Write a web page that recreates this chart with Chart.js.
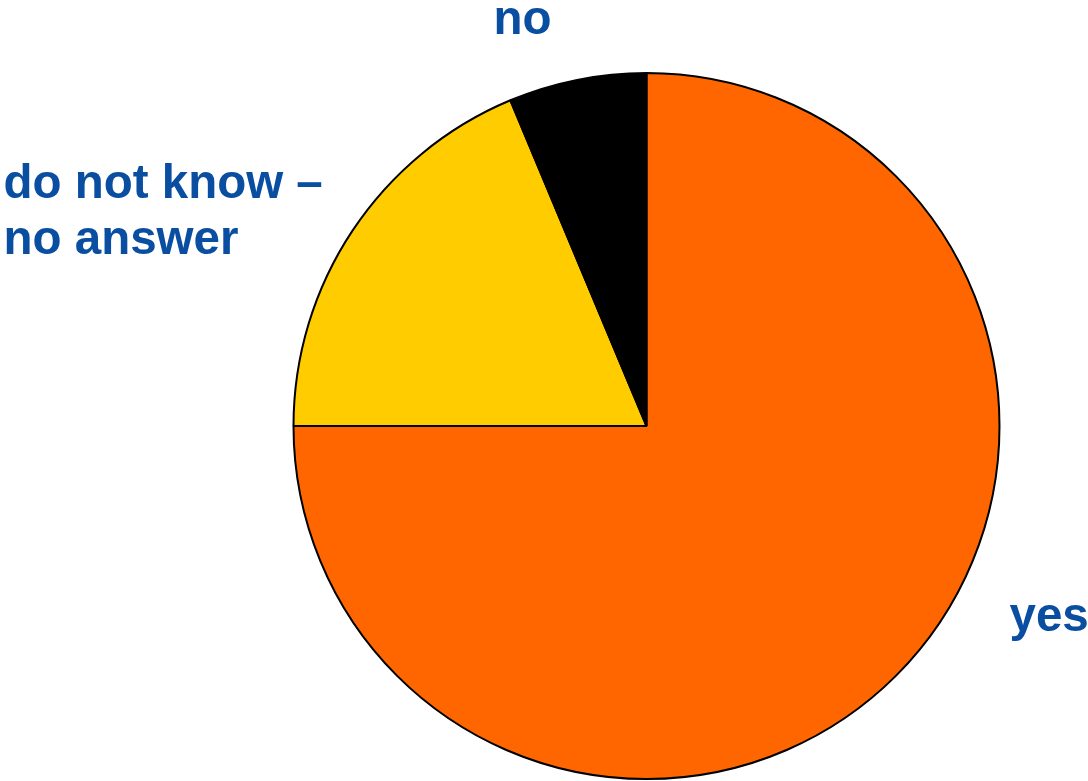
<!DOCTYPE html>
<html>
<head>
<meta charset="utf-8">
<script src="https://cdn.jsdelivr.net/npm/chart.js@4"></script>
<style>
html,body{margin:0;padding:0;background:#fff;}
#wrap{width:1088px;height:781px;position:relative;}
</style>
</head>
<body>
<div id="wrap"><canvas id="c" width="1088" height="781"></canvas></div>
<script>
const categories = ['yes', 'do not know –\nno answer', 'no'];
const values = [75, 18.7, 6.3];
const colors = ['#FF6600', '#FFCC00', '#000000'];

const labelPlugin = {
  id: 'outerLabels',
  afterDraw(chart) {
    const ctx = chart.ctx;
    const arc = chart.getDatasetMeta(0).data[0];
    const cx = arc.x, cy = arc.y, r = arc.outerRadius;
    ctx.save();
    ctx.fillStyle = '#0A4EA2';
    ctx.font = 'bold 47.5px "Liberation Sans", Arial, sans-serif';
    ctx.textAlign = 'left';
    ctx.textBaseline = 'alphabetic';
    // yes
    ctx.fillText('yes', cx + r + 10, cy + 205);
    // do not know
    const lines = categories[1].split('\n');
    ctx.fillText(lines[0], cx - r - 290, cy - 228);
    ctx.fillText(lines[1], cx - r - 290, cy - 172);
    // no
    ctx.fillText('no', cx - 153, cy - 392);
    ctx.restore();
  }
};

new Chart(document.getElementById('c'), {
  type: 'pie',
  data: {
    labels: categories,
    datasets: [{
      data: values,
      backgroundColor: colors,
      borderColor: '#000000',
      borderWidth: 2
    }]
  },
  options: {
    responsive: false,
    animation: false,
    layout: { padding: { top: 72, bottom: 1, left: 292, right: 87 } },
    plugins: { legend: { display: false }, tooltip: { enabled: false } }
  },
  plugins: [labelPlugin]
});
</script>
</body>
</html>
